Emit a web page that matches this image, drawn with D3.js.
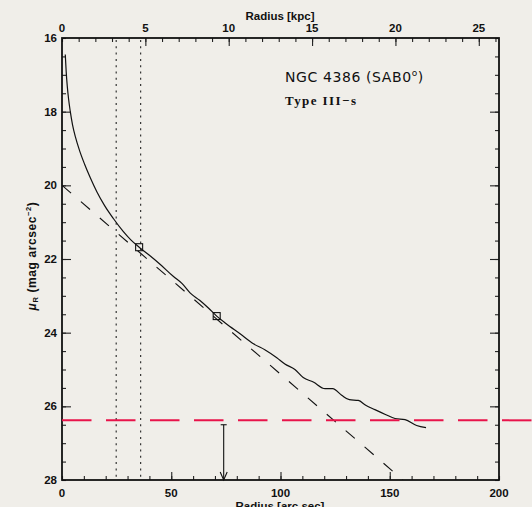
<!DOCTYPE html>
<html lang="en">
<head>
<meta charset="utf-8">
<title>NGC 4386 profile</title>
<script src="https://cdn.jsdelivr.net/npm/d3@7"></script>
<style>
body { margin: 0; background: #f0eee9; }
svg { display: block; }
text { font-family: "Liberation Sans", Arial, sans-serif; font-weight: bold; fill: #111; }
</style>
</head>
<body>
<script>
// surface brightness profile, radius in arcsec, mu in mag/arcsec^2
var profileR  = [1.5, 1.9, 2.4, 3.0, 3.8, 4.8, 6.2, 8.0, 10.3, 13, 16, 19.5, 23.5, 28, 31.5, 35.3, 40, 45, 50.9, 55, 58.6, 63, 67, 70.8, 75, 81.5, 87.6, 93, 98.3, 102, 106.6, 110.4, 115, 120.4, 123.9, 128, 131.5, 135.6, 139, 143.2, 148, 152.4, 157, 162.3, 166.6];
var profileMu = [16.45, 16.9, 17.3, 17.65, 18.0, 18.35, 18.7, 19.05, 19.42, 19.8, 20.18, 20.55, 20.9, 21.25, 21.48, 21.68, 21.9, 22.15, 22.47, 22.67, 22.92, 23.12, 23.33, 23.55, 23.75, 24.03, 24.3, 24.47, 24.68, 24.85, 25.0, 25.22, 25.34, 25.52, 25.52, 25.7, 25.82, 25.84, 25.97, 26.09, 26.22, 26.33, 26.36, 26.52, 26.58];

// break markers (squares)
var squareR  = [35.3, 70.8];
var squareMu = [21.68, 23.55];

// inner exponential fit (dashed)
var fitR  = [0, 156];
var fitMu = [20.0, 28.0];

// vertical dotted lines (bar region)
var dottedR = [24.8, 36.0];

// sky limit (red dashed) and break arrow
var skyMu = 26.38;
var arrowR = 74;
var arrowMuTop = 26.5;

// axis ticks
var bottomTicks = [0, 50, 100, 150, 200];
var topTicks = [0, 5, 10, 15, 20, 25];
var leftTicks = [16, 18, 20, 22, 24, 26, 28];
var arcsecPerKpc = 7.63;

var W = 532, H = 507;
var L = 62, R = 499, T = 38, B = 480;

var svg = d3.select("body").append("svg").attr("width", W).attr("height", H);

var x = d3.scaleLinear().domain([0, 200]).range([L, R]);
var xk = d3.scaleLinear().domain([0, 200 / arcsecPerKpc]).range([L, R]);
var y = d3.scaleLinear().domain([16, 28]).range([T, B]);

// axes: ticks pointing inwards, labels placed separately
function minor(step, lo, hi) {
    return d3.range(lo, hi + 1e-6, step);
}

svg.append("g").attr("transform", "translate(0," + B + ")")
    .call(d3.axisTop(x).tickValues(minor(10, 0, 200)).tickSize(4).tickFormat(""));
svg.append("g").attr("transform", "translate(0," + B + ")")
    .call(d3.axisTop(x).tickValues(bottomTicks.slice(1, -1)).tickSize(8).tickFormat(""));
svg.append("g").attr("transform", "translate(0," + T + ")")
    .call(d3.axisBottom(xk).tickValues(minor(1, 0, 26)).tickSize(4).tickFormat(""));
svg.append("g").attr("transform", "translate(0," + T + ")")
    .call(d3.axisBottom(xk).tickValues(topTicks.slice(1)).tickSize(8).tickFormat(""));
svg.append("g").attr("transform", "translate(" + L + ",0)")
    .call(d3.axisRight(y).tickValues(minor(0.5, 16, 28)).tickSize(4).tickFormat(""));
svg.append("g").attr("transform", "translate(" + L + ",0)")
    .call(d3.axisRight(y).tickValues(leftTicks.slice(1, -1)).tickSize(9).tickFormat(""));
svg.append("g").attr("transform", "translate(" + R + ",0)")
    .call(d3.axisLeft(y).tickValues(minor(0.5, 16, 28)).tickSize(4).tickFormat(""));
svg.append("g").attr("transform", "translate(" + R + ",0)")
    .call(d3.axisLeft(y).tickValues(leftTicks.slice(1, -1)).tickSize(9).tickFormat(""));

svg.selectAll(".domain").remove();
svg.selectAll(".tick line").attr("stroke", "#222").attr("stroke-width", 1.1);

// frame
svg.append("rect").attr("x", L).attr("y", T).attr("width", R - L).attr("height", B - T)
    .attr("fill", "none").attr("stroke", "#111").attr("stroke-width", 1.8);

// tick labels
svg.selectAll(".bl").data(bottomTicks).enter().append("text")
    .attr("x", function(d) { return x(d); }).attr("y", 497)
    .attr("text-anchor", "middle").attr("font-size", "11.5px").text(function(d) { return d; });
svg.selectAll(".tl").data(topTicks).enter().append("text")
    .attr("x", function(d) { return xk(d); }).attr("y", 32)
    .attr("text-anchor", "middle").attr("font-size", "11.5px").text(function(d) { return d; });
svg.selectAll(".ll").data(leftTicks).enter().append("text")
    .attr("x", 57).attr("y", function(d) { return y(d) + 4; })
    .attr("text-anchor", "end").attr("font-size", "11.5px").text(function(d) { return d; });

// axis titles
svg.append("text").attr("x", 280).attr("y", 20).attr("text-anchor", "middle")
    .attr("font-size", "11.5px").text("Radius [kpc]");
svg.append("text").attr("x", 280).attr("y", 510).attr("text-anchor", "middle")
    .attr("font-size", "11.5px").text("Radius [arc sec]");

var yl = svg.append("text").attr("transform", "translate(36,256) rotate(-90)")
    .attr("text-anchor", "middle").attr("font-size", "12px").attr("letter-spacing", "0.6px");
yl.append("tspan").attr("font-style", "italic").text("\u03bc");
yl.append("tspan").attr("font-size", "7.5px").attr("dy", 2).text("R");
yl.append("tspan").attr("dy", -2).text(" (mag arcsec");
yl.append("tspan").attr("font-size", "7.5px").attr("dy", -5).text("\u22122");
yl.append("tspan").attr("dy", 5).text(")");

// annotations
var galaxyLabel = svg.append("text").attr("x", 285).attr("y", 82)
    .style("font-family", "'DejaVu Sans', sans-serif").style("font-weight", "normal")
    .attr("font-size", "14px").attr("letter-spacing", "0.6px");
galaxyLabel.append("tspan").text("NGC 4386 (SAB0");
galaxyLabel.append("tspan").attr("font-size", "9px").attr("dy", -6).text("o");
galaxyLabel.append("tspan").attr("dy", 6).text(")");
svg.append("text").attr("x", 285).attr("y", 105)
    .style("font-family", "'Liberation Serif', serif").style("font-weight", "bold")
    .attr("font-size", "13px").attr("textLength", 71).text("Type III\u2212s");

// dotted verticals
svg.selectAll(".dot").data(dottedR).enter().append("line")
    .attr("x1", function(d) { return x(d); }).attr("x2", function(d) { return x(d); })
    .attr("y1", T + 2).attr("y2", B)
    .attr("stroke", "#222").attr("stroke-width", 1.1).attr("stroke-dasharray", "2,4.3");

// fit line, clipped to plot area
svg.append("clipPath").attr("id", "clip").append("rect")
    .attr("x", L).attr("y", T).attr("width", R - L).attr("height", B - T);

var fit = fitR.map(function(r, i) { return [r, fitMu[i]]; });
svg.append("path").datum(fit).attr("clip-path", "url(#clip)")
    .attr("d", d3.line().x(function(d) { return x(d[0]); }).y(function(d) { return y(d[1]); }))
    .attr("fill", "none").attr("stroke", "#111").attr("stroke-width", 1.1)
    .attr("stroke-dasharray", "12,13");

// profile
var prof = profileR.map(function(r, i) { return [r, profileMu[i]]; });
svg.append("path").datum(prof)
    .attr("d", d3.line().curve(d3.curveMonotoneX).x(function(d) { return x(d[0]); }).y(function(d) { return y(d[1]); }))
    .attr("fill", "none").attr("stroke", "#111").attr("stroke-width", 1.2);

// squares
svg.selectAll(".sq").data(squareR).enter().append("rect")
    .attr("x", function(d) { return x(d) - 3.5; })
    .attr("y", function(d, i) { return y(squareMu[i]) - 3.5; })
    .attr("width", 7).attr("height", 7)
    .attr("fill", "none").attr("stroke", "#111").attr("stroke-width", 1.1);

// sky level
svg.append("line").attr("x1", L).attr("x2", W).attr("y1", y(skyMu)).attr("y2", y(skyMu))
    .attr("stroke", "#e8134a").attr("stroke-width", 2).attr("stroke-dasharray", "29.5,14.5");

// arrow marking break radius
var ax = x(arrowR);
svg.append("line").attr("x1", ax).attr("x2", ax).attr("y1", y(arrowMuTop)).attr("y2", B)
    .attr("stroke", "#111").attr("stroke-width", 1.1);
svg.append("line").attr("x1", ax - 3).attr("x2", ax + 3).attr("y1", y(arrowMuTop)).attr("y2", y(arrowMuTop))
    .attr("stroke", "#111").attr("stroke-width", 1.1);
svg.append("path").attr("d", "M" + (ax - 3.5) + "," + (B - 8) + "L" + ax + "," + B + "L" + (ax + 3.5) + "," + (B - 8))
    .attr("fill", "none").attr("stroke", "#111").attr("stroke-width", 1.1);
</script>
</body>
</html>
